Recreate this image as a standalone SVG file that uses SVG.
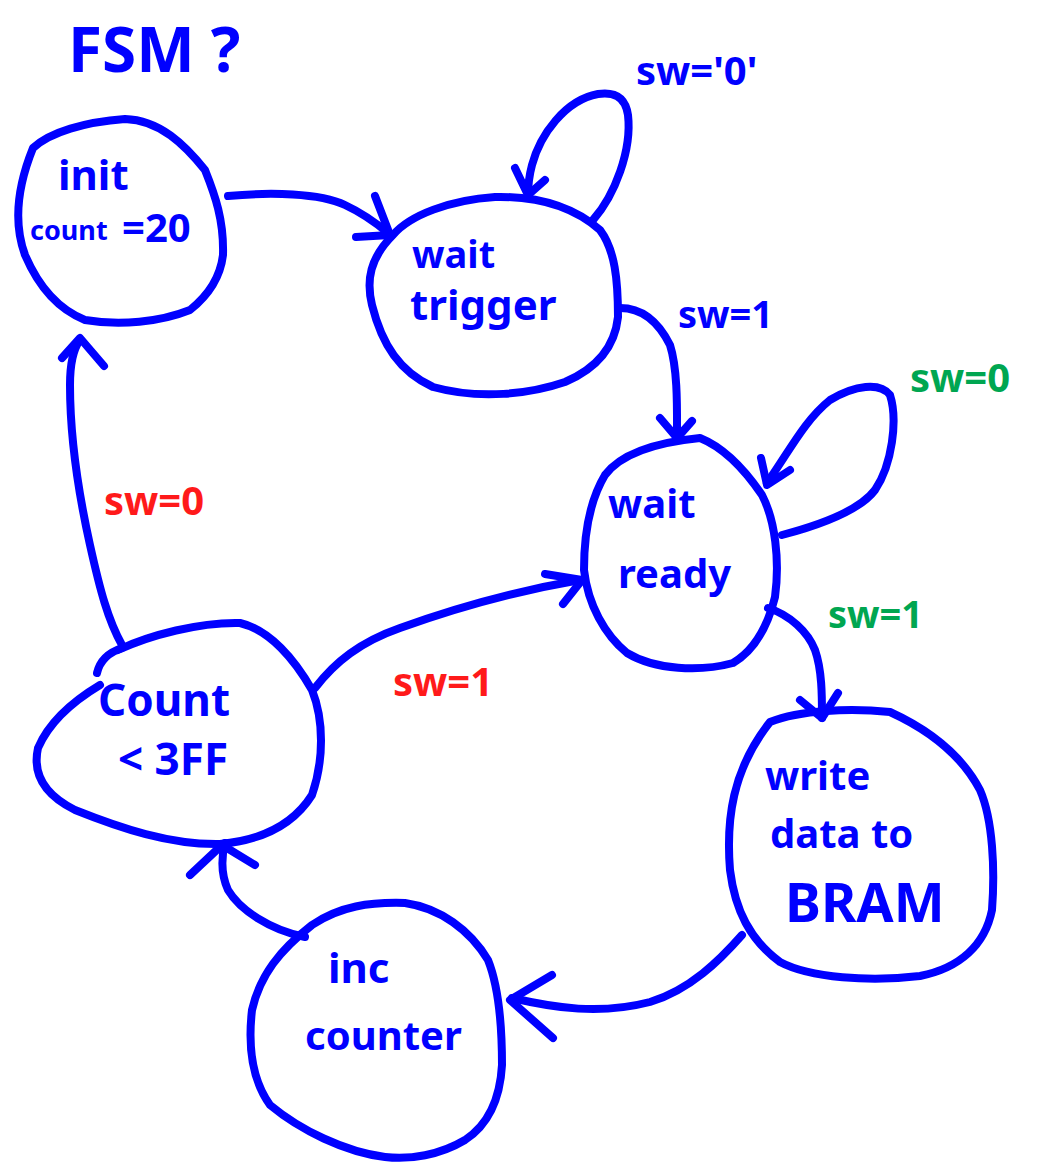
<svg xmlns="http://www.w3.org/2000/svg" width="1050" height="1163" viewBox="0 0 1050 1163">
<style>
.s{fill:none;stroke:#0000FF;stroke-width:8;stroke-linecap:round;stroke-linejoin:round}
.t{font-family:"Noto Sans","DejaVu Sans",sans-serif;font-weight:700;fill:#0000FF}
.r{font-family:"Noto Sans","DejaVu Sans",sans-serif;font-weight:700;fill:#FF1A1A}
.g{font-family:"Noto Sans","DejaVu Sans",sans-serif;font-weight:700;fill:#00A651}
</style>
<rect width="1050" height="1163" fill="#FFFFFF"/>
<text class="t" x="68" y="72" font-size="62" font-weight="400">FSM ?</text>

<g id="init">
<path class="s" d="M33,148 C50,132 85,122 125,119 C160,120 185,145 205,170 C215,195 224,220 223,255 C220,280 205,298 190,310 C160,322 120,326 85,320 C60,310 40,290 25,255 C14,225 16,190 33,148 Z"/>
<text class="t" x="58" y="190" font-size="42">init</text>
<text class="t" x="30" y="240" font-size="27">count</text>
<text class="t" x="122" y="242" font-size="40">=20</text>
</g>

<g id="wait_trigger">
<path class="s" d="M393,235 C410,215 450,200 495,197 C540,196 575,208 600,230 C615,250 618,280 618,317 C615,345 598,368 565,382 C530,394 480,400 433,387 C400,372 382,345 372,305 C366,280 370,258 393,235 Z"/>
<text class="t" x="412" y="268" font-size="38">wait</text>
<text class="t" x="410" y="320" font-size="42">trigger</text>
</g>

<g id="wait_ready">
<path class="s" d="M700,438 C725,448 745,470 762,495 C775,520 780,560 775,597 C768,625 755,650 733,663 C700,672 655,670 627,653 C605,635 588,605 584,570 C584,535 590,500 605,475 C620,455 650,443 700,438 Z"/>
<text class="t" x="608" y="518" font-size="40">wait</text>
<text class="t" x="618" y="588" font-size="40">ready</text>
</g>

<g id="write_data">
<path class="s" d="M770,722 C800,710 850,708 890,712 C925,728 960,752 980,790 C993,820 995,870 992,910 C985,945 960,968 920,976 C870,982 810,978 780,962 C750,940 735,910 730,870 C726,820 732,770 770,722 Z"/>
<text class="t" x="765" y="790" font-size="40">write</text>
<text class="t" x="770" y="848" font-size="40">data to</text>
<text class="t" x="785" y="922" font-size="54">BRAM</text>
</g>

<g id="inc_counter">
<path class="s" d="M312,925 C340,906 370,902 405,903 C440,908 470,930 488,960 C500,990 502,1030 502,1065 C500,1100 488,1125 465,1140 C440,1155 410,1160 385,1157 C345,1152 300,1130 270,1105 C252,1080 248,1045 252,1010 C260,975 280,950 312,925 Z"/>
<text class="t" x="328" y="983" font-size="42">inc</text>
<text class="t" x="305" y="1050" font-size="40">counter</text>
</g>

<g id="count_lt">
<path class="s" d="M118,650 C150,635 200,622 240,623 C270,630 295,660 312,690 C324,720 324,760 312,795 C295,822 265,840 220,844 C170,845 120,828 75,810 C45,795 32,775 38,748 C50,720 75,700 100,685"/>
<path class="s" d="M97,673 C100,660 110,652 122,648"/>
<text class="t" x="98" y="716" font-size="44">Count</text>
<text class="t" x="118" y="775" font-size="44">&lt; 3FF</text>
</g>

<g id="connectors">
<path class="s" d="M228,196 C270,192 320,193 345,205 C360,212 375,222 388,233"/>
<path class="s" d="M375,196 L390,235 M356,237 L390,235"/>

<path class="s" d="M593,220 C615,195 632,150 628,115 C625,95 612,92 598,94 C565,100 540,135 532,165 C528,180 528,190 528,196"/>
<path class="s" d="M515,168 L528,195 L545,180"/>

<path class="s" d="M620,308 C645,308 660,325 670,345 C678,370 677,410 677,437"/>
<path class="s" d="M660,418 L677,438 L692,421"/>

<path class="s" d="M782,535 C820,525 860,510 875,490 C892,465 898,420 890,395 C880,382 855,385 830,400 C805,420 790,450 767,483"/>
<path class="s" d="M761,458 L767,485 L790,470"/>

<path class="s" d="M768,608 C790,615 808,632 815,650 C822,670 822,695 822,718"/>
<path class="s" d="M800,700 L822,718 L838,693"/>

<path class="s" d="M742,935 C720,960 690,990 650,1002 C600,1015 555,1008 512,998"/>
<path class="s" d="M552,975 L510,1000 L553,1038"/>

<path class="s" d="M305,937 C270,930 240,910 228,890 C220,872 222,855 225,843"/>
<path class="s" d="M190,875 L222,845 L255,865"/>

<path class="s" d="M315,688 C335,662 360,642 400,628 C450,610 510,592 580,580"/>
<path class="s" d="M545,574 L582,580 L563,604"/>

<path class="s" d="M122,645 C108,620 100,590 90,545 C80,500 70,440 70,385 C70,360 74,348 80,340"/>
<path class="s" d="M62,358 L80,338 L104,366"/>
</g>

<text class="t" x="636" y="85" font-size="40">sw='0'</text>
<text class="t" x="678" y="328" font-size="38">sw=1</text>
<text class="g" x="910" y="392" font-size="40">sw=0</text>
<text class="g" x="828" y="628" font-size="38">sw=1</text>
<text class="r" x="104" y="515" font-size="40">sw=0</text>
<text class="r" x="393" y="696" font-size="40">sw=1</text>
</svg>
